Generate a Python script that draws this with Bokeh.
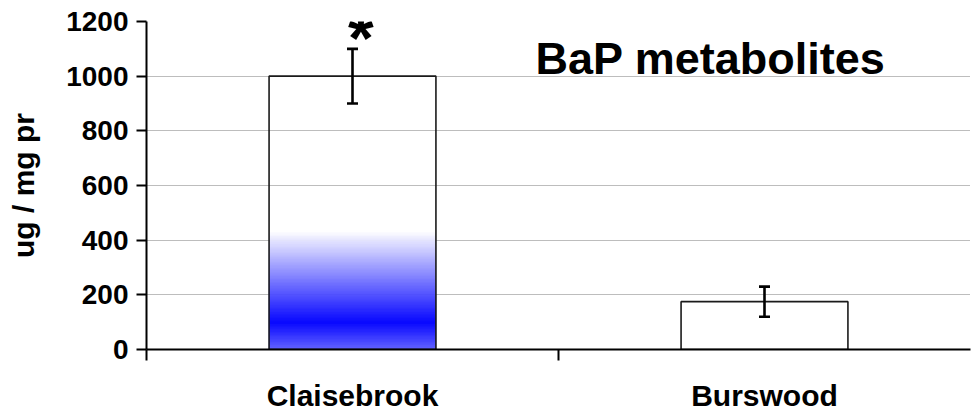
import numpy as np
from bokeh.plotting import figure
from bokeh.models import FixedTicker, ColumnDataSource, Whisker, TeeHead, Range1d, Label
from bokeh.embed import file_html
from bokeh.resources import INLINE
from bokeh.core.properties import value

# ---- data ----
categories = ["Claisebrook", "Burswood"]
means = [1000, 175]
errors = [100, 55]
sig_marks = ["*", ""]
y_ticks = [0, 200, 400, 600, 800, 1000, 1200]
title_text = "BaP metabolites"
y_label = "ug / mg pr"

FONT = "Liberation Sans"
x_pos = [i + 0.5 for i in range(len(categories))]
BAR_W = 0.405

p = figure(frame_width=824, frame_height=328, output_backend="svg", toolbar_location=None,
           x_range=Range1d(0, len(categories)), y_range=Range1d(0, y_ticks[-1]),
           min_border_left=146, min_border_right=1, min_border_top=21, min_border_bottom=0)
p.outline_line_color = None
p.background_fill_color = "white"

# gradient fill for the first bar (style only)
stops_v = [0, 100, 435]
stops_c = [(96, 96, 255), (0, 0, 255), (255, 255, 255)]
n = 160
edges = np.linspace(0, stops_v[-1], n + 1)
mids = (edges[:-1] + edges[1:]) / 2
cols = []
for m in mids:
    rgb = [int(round(np.interp(m, stops_v, [c[k] for c in stops_c]))) for k in range(3)]
    cols.append("#%02x%02x%02x" % tuple(rgb))
g = ColumnDataSource(dict(left=[x_pos[0] - BAR_W / 2] * n, right=[x_pos[0] + BAR_W / 2] * n,
                          bottom=edges[:-1], top=edges[1:], color=cols))
p.quad(left="left", right="right", bottom="bottom", top="top", fill_color="color",
       line_color="color", line_width=0.5, source=g)
src = ColumnDataSource(dict(x=x_pos, top=means, lower=[m - e for m, e in zip(means, errors)],
                            upper=[m + e for m, e in zip(means, errors)], sig=sig_marks))
p.quad(left=[x_pos[1] - BAR_W / 2], right=[x_pos[1] + BAR_W / 2], bottom=[0], top=[means[1]],
       fill_color="white", line_color=None)
p.vbar(x="x", top="top", width=BAR_W, bottom=0, fill_alpha=0, line_color="#1a1a1a",
       line_width=1.6, source=src)

w = Whisker(base="x", upper="upper", lower="lower", source=src, line_width=2.6, line_color="black",
            upper_head=TeeHead(size=11, line_width=2.6, line_color="black"),
            lower_head=TeeHead(size=11, line_width=2.6, line_color="black"))
w.level = "overlay"
p.add_layout(w)

# significance mark (annotation, so it may extend above the frame)
star = Label(x=x_pos[0] + 0.02, y=1140, text=sig_marks[0], text_font=FONT,
             text_font_style="bold", text_font_size="66px", text_align="center",
             text_baseline="alphabetic", text_color="black", level="overlay")
p.add_layout(star)
# title inside plot
p.text(x=[0.944], y=[1065], text=[title_text], text_font=value(FONT), text_font_style="bold",
       text_font_size="45px", text_align="left", text_baseline="alphabetic", text_color="black")

# grid
p.xgrid.visible = False
p.ygrid.ticker = FixedTicker(ticks=y_ticks)
p.ygrid.grid_line_color = "#7a7a7a"
p.ygrid.grid_line_width = 1
p.ygrid.grid_line_dash = "1 1"

# y axis
ya = p.yaxis[0]
ya.ticker = FixedTicker(ticks=y_ticks)
ya.axis_label = y_label
ya.axis_label_text_font = FONT
ya.axis_label_text_font_style = "bold"
ya.axis_label_text_font_size = "30px"
ya.axis_label_text_color = "black"
ya.axis_label_standoff = 23
ya.major_label_text_font = FONT
ya.major_label_text_font_style = "bold"
ya.major_label_text_font_size = "28px"
ya.major_label_text_color = "black"
ya.major_label_standoff = 8
ya.major_tick_out = 10
ya.major_tick_in = 0
ya.minor_tick_line_color = None
ya.axis_line_width = 2
ya.axis_line_color = "black"
ya.major_tick_line_width = 2
ya.major_tick_line_color = "black"

# x axis: labels at centers, ticks at boundaries
xa = p.xaxis[0]
xa.ticker = FixedTicker(ticks=x_pos, minor_ticks=list(range(len(categories))))
xa.major_label_overrides = {x: c for x, c in zip(x_pos, categories)}
xa.major_label_text_font = FONT
xa.major_label_text_font_style = "bold"
xa.major_label_text_font_size = "30px"
xa.major_label_text_color = "black"
xa.major_label_text_line_height = 1.0
xa.major_tick_out = 0
xa.major_tick_in = 0
xa.major_tick_line_color = None
xa.major_label_standoff = 18
xa.minor_tick_out = 11
xa.minor_tick_in = 0
xa.minor_tick_line_width = 2
xa.minor_tick_line_color = "black"
xa.axis_line_width = 2
xa.axis_line_color = "black"

open("out.html", "w").write(file_html(p, INLINE))
